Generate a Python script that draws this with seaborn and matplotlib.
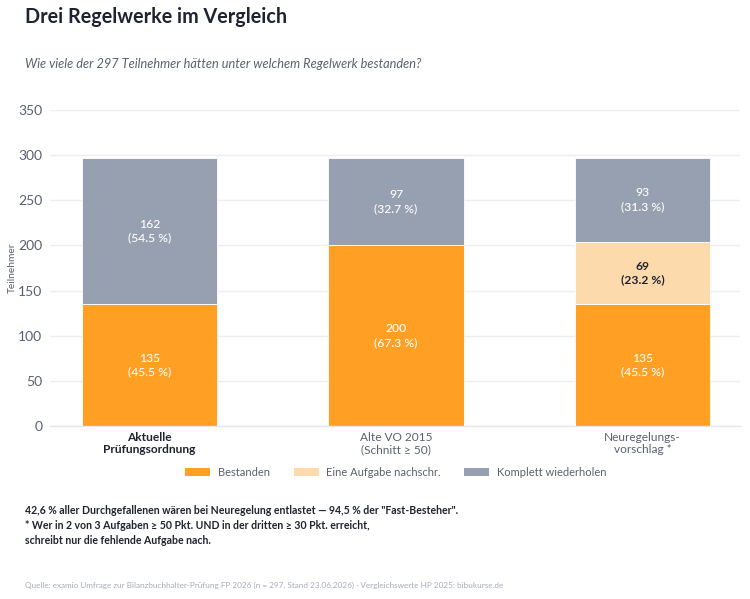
import matplotlib
matplotlib.use("Agg")
import matplotlib.pyplot as plt
from matplotlib.patches import Patch
import seaborn as sns
import pandas as pd
import numpy as np

categories = ["Aktuelle\nPrüfungsordnung", "Alte VO 2015\n(Schnitt ≥ 50)", "Neuregelungs-\nvorschlag *"]
bestanden = [135, 200, 135]
nachschr = [0, 0, 69]
wiederholen = [162, 97, 93]
pct_bestanden = [45.5, 67.3, 45.5]
pct_nachschr = [0, 0, 23.2]
pct_wiederholen = [54.5, 32.7, 31.3]
series_names = ["Bestanden", "Eine Aufgabe nachschr.", "Komplett wiederholen"]
yticks = [0, 50, 100, 150, 200, 250, 300, 350]

sns.set_theme(style="white")
plt.rcParams["font.family"] = ["Lato", "DejaVu Sans"]

c_orange = "#FF9F24"
c_peach = "#FDDAAB"
c_gray = "#97A0B0"
colors = [c_orange, c_peach, c_gray]

fig = plt.figure(figsize=(7.5, 5.99), dpi=100)
ax = fig.add_axes([50/750, 1-426/599, 690/750, 316/599])

df = pd.DataFrame({"cat": categories, "b": bestanden, "n": nachschr, "w": wiederholen})
bottoms = [np.zeros(3), np.array(bestanden, float), np.array(bestanden, float) + np.array(nachschr, float)]
layers = ["b", "n", "w"]
for col, bot, colr in zip(layers, bottoms, colors):
    sns.barplot(data=df, x="cat", y=col, order=categories, bottom=bot, color=colr,
                width=0.548, saturation=1, ax=ax, linewidth=0.6, edgecolor="white")

# labels
vals_list = [bestanden, nachschr, wiederholen]
pcts_list = [pct_bestanden, pct_nachschr, pct_wiederholen]
for li, (vals, pcts, bot) in enumerate(zip(vals_list, pcts_list, bottoms)):
    for i in range(3):
        v = vals[i]
        if v <= 0:
            continue
        yc = bot[i] + v / 2
        if li == 1:
            ax.text(i, yc, f"{v}\n({pcts[i]:.1f} %)", ha="center", va="center",
                    color="#1F2330", fontsize=8.7, fontweight="bold", linespacing=1.3)
        else:
            ax.text(i, yc, f"{v}\n({pcts[i]:.1f} %)", ha="center", va="center",
                    color="white", fontsize=8.7, fontweight="medium", linespacing=1.3)

ax.set_xlim(-0.404, 2.396)
ax.set_ylim(0, 350)
ax.set_yticks(yticks)
ax.yaxis.grid(True, color="#EDEEF2", linewidth=1)
ax.set_axisbelow(True)
for s in ["top", "right", "left"]:
    ax.spines[s].set_visible(False)
ax.spines["bottom"].set_color("#E6E7EC")
ax.spines["bottom"].set_linewidth(1)
ax.tick_params(axis="y", length=0, labelsize=10, labelcolor="#5A6070", pad=5.5)
ax.tick_params(axis="x", length=0, labelsize=8.6, labelcolor="#5A6070", pad=4)
ax.set_xlabel("")
ax.set_ylabel("Teilnehmer", fontsize=7.3, color="#5A6070")
ax.yaxis.set_label_coords(-33/690, 0.5)
for k, lab in enumerate(ax.get_xticklabels()):
    lab.set_linespacing(1.15)
    if k == 0:
        lab.set_fontweight("bold")
        lab.set_color("#1F2330")

handles = [Patch(facecolor=c, edgecolor="none") for c in colors]
fig.legend(handles, series_names, loc="center", bbox_to_anchor=(396/750, 1-472/599), ncol=3,
           frameon=False, fontsize=8, handlelength=2.25, handleheight=0.75,
           columnspacing=2.1, handletextpad=0.7, labelcolor="#5A6070")

fig.text(25/750, 1-17/599, "Drei Regelwerke im Vergleich", fontsize=14.2, fontweight="bold",
         color="#1F2330", ha="left", va="center")
fig.text(25/750, 1-64/599, "Wie viele der 297 Teilnehmer hätten unter welchem Regelwerk bestanden?",
         fontsize=9.2, style="italic", color="#5A6070", ha="left", va="center")

notes = ['42,6 % aller Durchgefallenen wären bei Neuregelung entlastet — 94,5 % der "Fast-Besteher".',
         "* Wer in 2 von 3 Aufgaben ≥ 50 Pkt. UND in der dritten ≥ 30 Pkt. erreicht,",
         "schreibt nur die fehlende Aufgabe nach."]
for j, t in enumerate(notes):
    fig.text(25/750, 1-(510 + 15.5*j)/599, t, fontsize=7.6, fontweight="bold",
             color="#1F2330", ha="left", va="center")

fig.text(25/750, 1-585/599,
         "Quelle: examio Umfrage zur Bilanzbuchhalter-Prüfung FP 2026 (n = 297, Stand 23.06.2026) · Vergleichswerte HP 2025: bibukurse.de",
         fontsize=5.9, color="#A6ABB7", ha="left", va="center")

fig.savefig("out.png", dpi=100, facecolor="white")
